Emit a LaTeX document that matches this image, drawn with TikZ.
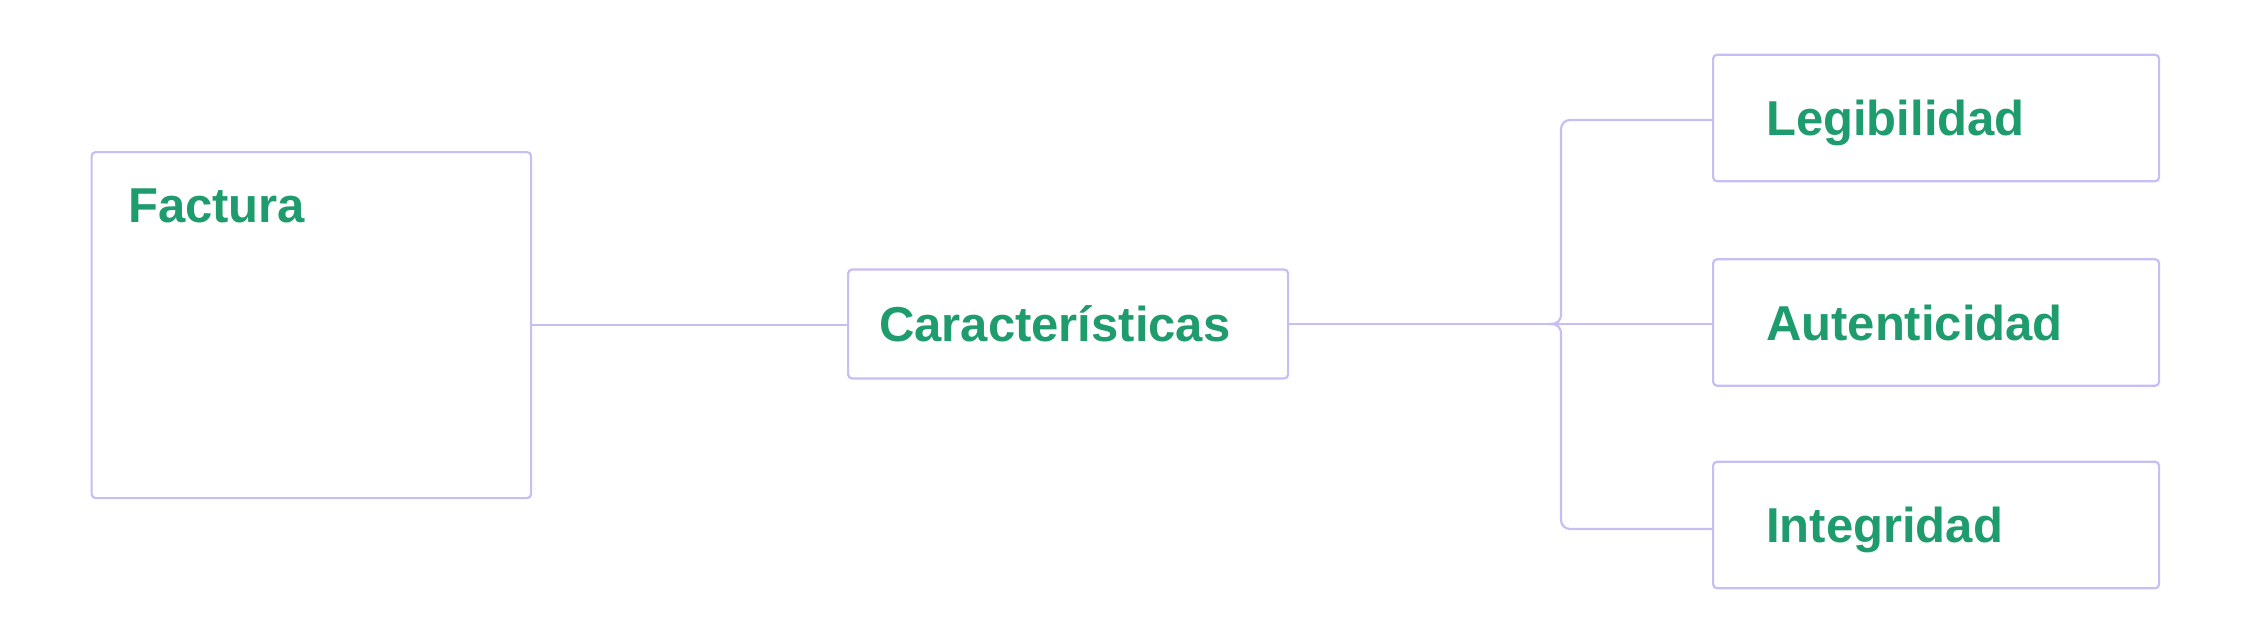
\documentclass[tikz,border=0pt]{standalone}
\usepackage{fontspec}
\setmainfont{Liberation Sans}
\definecolor{linec}{HTML}{C9BDF5}
\definecolor{textc}{HTML}{1F9C6E}
\begin{document}
\begin{tikzpicture}[x=1pt,y=-1pt,
  box/.style={draw=linec, line width=2.2pt, rounded corners=4pt, fill=white, inner ysep=0pt},
  lbl/.style={text=textc, font=\fontsize{49}{55}\selectfont\bfseries, text height=35pt, text depth=0pt},
  conn/.style={draw=linec, line width=2.2pt}]
\useasboundingbox (0,0) rectangle (2250,642);
% Factura
\node[box, anchor=north west, minimum width=439.5pt, minimum height=346pt] (fac) at (90.5,151) {};
\node[lbl, anchor=base west, inner sep=0pt] (factxt) at (128,222) {Factura};
% Caracteristicas
\node[box, lbl, anchor=west, minimum width=440pt, minimum height=109pt, text width=378pt, inner xsep=31pt, align=left] (car) at (847,324) {Características};
% Right boxes
\node[box, lbl, anchor=west, minimum width=446pt, minimum height=126.5pt, text width=340pt, inner xsep=53pt, align=left] (leg) at (1712,118) {Legibilidad};
\node[box, lbl, anchor=west, minimum width=446pt, minimum height=126.5pt, text width=340pt, inner xsep=53pt, align=left] (aut) at (1712,322.5) {Autenticidad};
\node[box, lbl, anchor=west, minimum width=446pt, minimum height=126.5pt, text width=340pt, inner xsep=53pt, align=left] (int) at (1712,525) {Integridad};
% connectors
\coordinate (j) at (1561,324);
\coordinate (jl) at (1548,324);
\coordinate (legin) at (1712,120);
\coordinate (intin) at (1712,529);
\path[conn] (fac.east) -- (fac.east -| car.west);
\path[conn] (car.east) -- (car.east -| aut.west);
\path[conn, rounded corners=9pt] (jl) -- (j) -- (j |- legin) -- (legin);
\path[conn, rounded corners=9pt] (jl) -- (j) -- (j |- intin) -- (intin);
\end{tikzpicture}
\end{document}
